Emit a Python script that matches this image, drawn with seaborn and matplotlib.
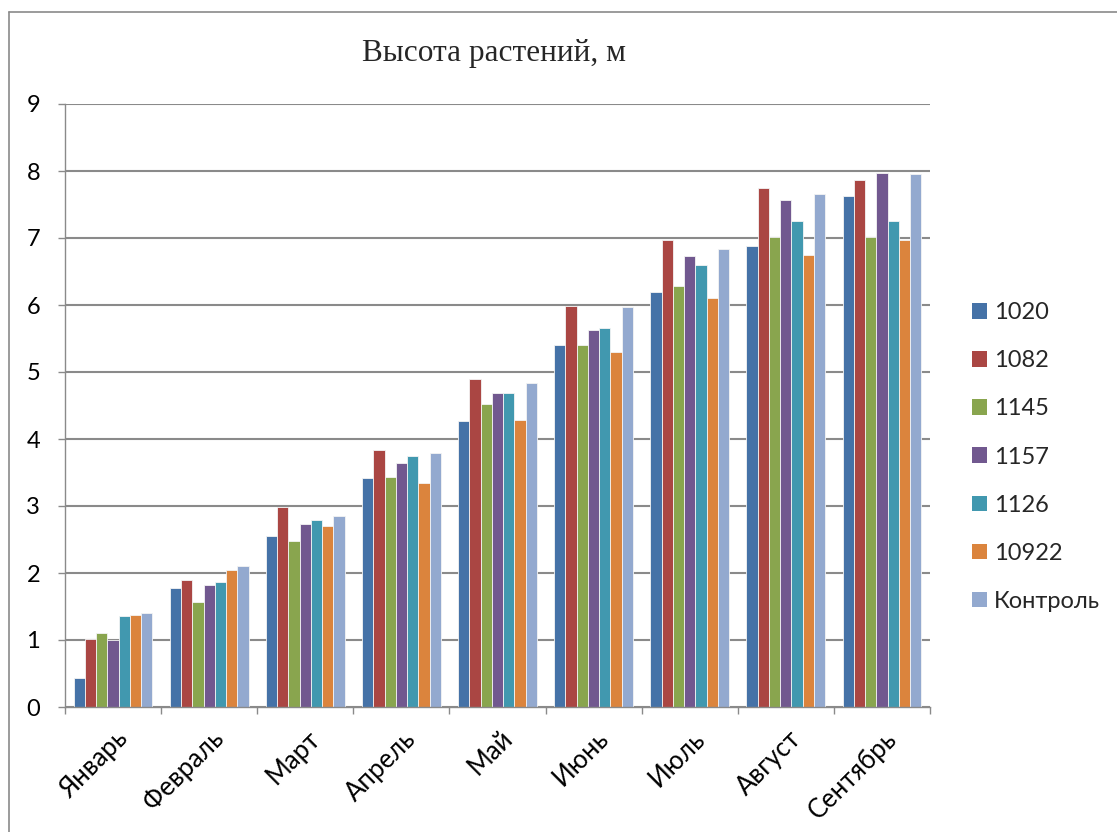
import numpy as np
import pandas as pd
import seaborn as sns
import matplotlib.pyplot as plt
import matplotlib.transforms as mtransforms
from matplotlib.patches import Patch
from matplotlib.lines import Line2D

months = ['Январь', 'Февраль', 'Март', 'Апрель', 'Май', 'Июнь', 'Июль', 'Август', 'Сентябрь']
varieties = ['1020', '1082', '1145', '1157', '1126', '10922', 'Контроль']

h_1020 = [0.44, 1.78, 2.55, 3.42, 4.27, 5.41, 6.20, 6.88, 7.62]
h_1082 = [1.02, 1.90, 2.98, 3.83, 4.90, 5.98, 6.97, 7.75, 7.87]
h_1145 = [1.10, 1.57, 2.48, 3.43, 4.52, 5.41, 6.28, 7.02, 7.02]
h_1157 = [1.00, 1.82, 2.73, 3.64, 4.68, 5.63, 6.73, 7.56, 7.97]
h_1126 = [1.36, 1.87, 2.79, 3.75, 4.68, 5.65, 6.60, 7.25, 7.25]
h_10922 = [1.38, 2.05, 2.70, 3.35, 4.29, 5.30, 6.10, 6.74, 6.97]
h_control = [1.40, 2.10, 2.85, 3.79, 4.83, 5.97, 6.84, 7.66, 7.96]

colors = ['#4572A7', '#AA4643', '#89A54E', '#71588F', '#4198AF', '#DB843D', '#93A9CF']

series = [h_1020, h_1082, h_1145, h_1157, h_1126, h_10922, h_control]
rows = []
for name, vals in zip(varieties, series):
    for m, v in zip(months, vals):
        rows.append({'month': m, 'variety': name, 'height': v})
df = pd.DataFrame(rows)

sns.set_style('white')
plt.rcParams['font.family'] = ['Lato', 'DejaVu Sans']

W, H = 1117, 832
fig = plt.figure(figsize=(W / 100, H / 100), dpi=100)
ax = fig.add_axes([65 / W, 1 - 707 / H, 865 / W, 603 / H])

sns.barplot(data=df, x='month', y='height', hue='variety', order=months,
            hue_order=varieties, palette=colors, saturation=1, width=0.82,
            gap=0, edgecolor='#f4f4f4', linewidth=0.6, legend=False, ax=ax)

grid_c = '#8a8a8a'
ax.set_ylim(0, 9)
ax.set_xlim(-0.5, len(months) - 0.5)
ax.set_yticks(range(0, 10))
ax.yaxis.grid(True, color=grid_c, linewidth=1.5)
ax.set_axisbelow(True)
ax.set_xlabel('')
ax.set_ylabel('')

for side in ['top', 'right']:
    ax.spines[side].set_visible(False)
for side in ['left', 'bottom']:
    ax.spines[side].set_color(grid_c)
    ax.spines[side].set_linewidth(1.0)

ax.tick_params(axis='y', left=True, length=5, width=1.0, color=grid_c,
               pad=13, labelsize=17, labelcolor='black')
ax.tick_params(axis='x', which='major', bottom=True, length=0, pad=20,
               labelsize=18.5, labelcolor='black')
ax.set_xticks(np.arange(-0.5, len(months), 1.0), minor=True)
ax.tick_params(axis='x', which='minor', bottom=True, length=5, width=1.0,
               color=grid_c)

offset = mtransforms.ScaledTranslation(11 / 100, 0, fig.dpi_scale_trans)
for lbl in ax.get_xticklabels():
    lbl.set_rotation(45)
    lbl.set_ha('right')
    lbl.set_va('center')
    lbl.set_rotation_mode('anchor')
    lbl.set_transform(lbl.get_transform() + offset)

handles = [Patch(facecolor=c, edgecolor='none') for c in colors]
fig.legend(handles, varieties, loc='center left',
           bbox_to_anchor=(972 / W, 1 - 457 / H), frameon=False,
           fontsize=17, handlelength=0.64, handleheight=0.64,
           handletextpad=0.3, labelspacing=1.15, borderpad=0,
           borderaxespad=0)

fig.text(494 / W, 1 - 60.7 / H, 'Высота растений, м', ha='center',
         va='baseline', family=['Liberation Serif'], fontsize=22.5)

# outer chart frame
fig.add_artist(Line2D([9.5 / W, 9.5 / W], [0, 1 - 12 / H], color=grid_c,
                      linewidth=1.2, transform=fig.transFigure))
fig.add_artist(Line2D([9.5 / W, 1], [1 - 12 / H, 1 - 12 / H], color=grid_c,
                      linewidth=1.2, transform=fig.transFigure))

fig.savefig('out.png', dpi=100)
